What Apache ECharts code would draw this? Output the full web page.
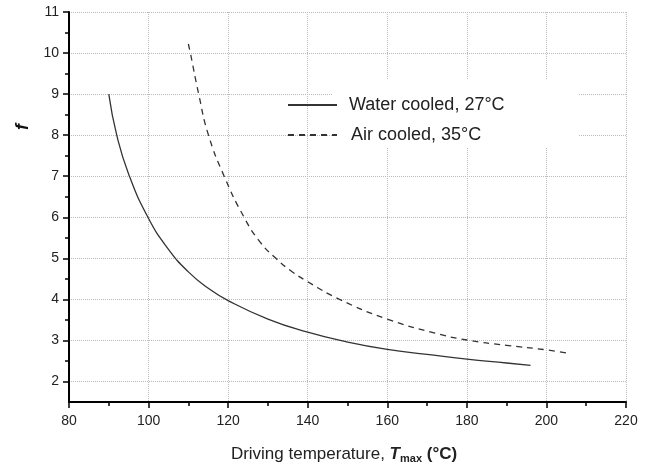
<!DOCTYPE html>
<html>
<head>
<meta charset="utf-8">
<script src="https://cdn.jsdelivr.net/npm/echarts@6/dist/echarts.min.js"></script>
<style>
  html, body { margin: 0; padding: 0; background: #fff; }
  #main { width: 652px; height: 469px; }
</style>
</head>
<body>
<div id="main"></div>
<script>
// data
var seriesNames = ['Water cooled, 27°C', 'Air cooled, 35°C'];
var waterT = [90, 92, 95, 100, 105, 110, 115, 120, 130, 140, 150, 160, 170, 180, 190, 196];
var waterF = [9.0, 8.0, 7.05, 5.97, 5.22, 4.67, 4.27, 3.97, 3.52, 3.2, 2.96, 2.78, 2.66, 2.545, 2.45, 2.39];
var airT = [110, 110.5, 112.6, 115, 119, 124, 128, 132, 136, 140, 148, 160, 172, 180, 190, 200, 206];
var airF = [10.22, 10.0, 9.0, 8.02, 7.0, 6.0, 5.4, 5.0, 4.68, 4.43, 4.0, 3.52, 3.18, 3.01, 2.88, 2.77, 2.68];
var yMajor = [2, 3, 4, 5, 6, 7, 8, 9, 10, 11];
var yMinor = [2.5, 3.5, 4.5, 5.5, 6.5, 7.5, 8.5, 9.5, 10.5];

var font = 'Arial, "Liberation Sans", sans-serif';

function pairs(xs, ys) {
  return xs.map(function (x, i) { return [x, ys[i]]; });
}

var chart = echarts.init(document.getElementById('main'));

var option = {
  animation: false,
  grid: { left: 69, right: 26, top: 12, bottom: 65, containLabel: false },
  legend: [
    {
      data: [seriesNames[0]], left: 282, top: 91, itemWidth: 49, itemHeight: 14,
      itemStyle: { opacity: 0 },
      textStyle: { fontFamily: font, fontSize: 18, color: '#222', padding: [0, 0, 0, 7] }
    },
    {
      data: [seriesNames[1]], left: 282, top: 121, itemWidth: 49, itemHeight: 14,
      itemStyle: { opacity: 0 },
      textStyle: { fontFamily: font, fontSize: 18, color: '#222', padding: [0, 0, 0, 9] }
    }
  ],
  graphic: [
    { type: 'rect', z: 1, silent: true, shape: { x: 333, y: 80, width: 245, height: 68 }, style: { fill: '#fff' } }
  ],
  xAxis: {
    type: 'value', min: 80, max: 220, interval: 20,
    name: '{a|Driving temperature, }{b|T}{c|max}{d| (°C)}',
    nameLocation: 'middle', nameGap: 42,
    nameTextStyle: {
      fontFamily: font, fontSize: 17, color: '#222', padding: [0, 7, 0, 0],
      rich: {
        a: { fontFamily: font, fontSize: 17, color: '#222' },
        b: { fontFamily: font, fontSize: 17, color: '#222', fontWeight: 'bold', fontStyle: 'italic' },
        c: { fontFamily: font, fontSize: 11, color: '#222', fontWeight: 'bold', padding: [9, 0, 0, 0] },
        d: { fontFamily: font, fontSize: 17, color: '#222', fontWeight: 'bold' }
      }
    },
    axisLine: { onZero: false, lineStyle: { color: '#000', width: 2 } },
    axisTick: { length: 6, lineStyle: { color: '#000', width: 1.5 } },
    minorTick: { show: true, splitNumber: 2, length: 4, lineStyle: { color: '#000', width: 1.5 } },
    axisLabel: { fontFamily: font, fontSize: 14, color: '#222', margin: 12 },
    splitLine: { show: true, lineStyle: { color: '#bbb', type: 'dotted', width: 1 } }
  },
  yAxis: [
    {
      type: 'value', min: 1.5, max: 11,
      name: 'f', nameLocation: 'middle', nameRotate: 90, nameGap: 35,
      nameTextStyle: { fontFamily: font, fontSize: 18, fontWeight: 'bold', fontStyle: 'italic', color: '#111', padding: [0, 0, 0, 160] },
      axisLine: { show: true, lineStyle: { color: '#000', width: 2 } },
      axisTick: { show: true, length: 6, customValues: yMajor, lineStyle: { color: '#000', width: 1.5 } },
      axisLabel: { fontFamily: font, fontSize: 14, color: '#222', margin: 10, customValues: yMajor },
      splitLine: { show: true, customValues: yMajor, lineStyle: { color: '#bbb', type: 'dotted', width: 1 } }
    },
    {
      type: 'value', min: 1.5, max: 11, position: 'left',
      axisLine: { show: false },
      axisTick: { show: true, length: 4, customValues: yMinor, lineStyle: { color: '#000', width: 1.5 } },
      axisLabel: { show: false },
      splitLine: { show: false }
    }
  ],
  series: [
    {
      name: seriesNames[0], type: 'line', smooth: 0.5, symbol: 'none', z: 3,
      data: pairs(waterT, waterF),
      lineStyle: { color: '#333', width: 1.3, type: 'solid' },
      itemStyle: { color: '#333' }
    },
    {
      name: seriesNames[1], type: 'line', smooth: 0.5, symbol: 'none', z: 3,
      data: pairs(airT, airF),
      lineStyle: { color: '#333', width: 1.3, type: [6, 5] },
      itemStyle: { color: '#333' }
    }
  ]
};

chart.setOption(option);
</script>
</body>
</html>
